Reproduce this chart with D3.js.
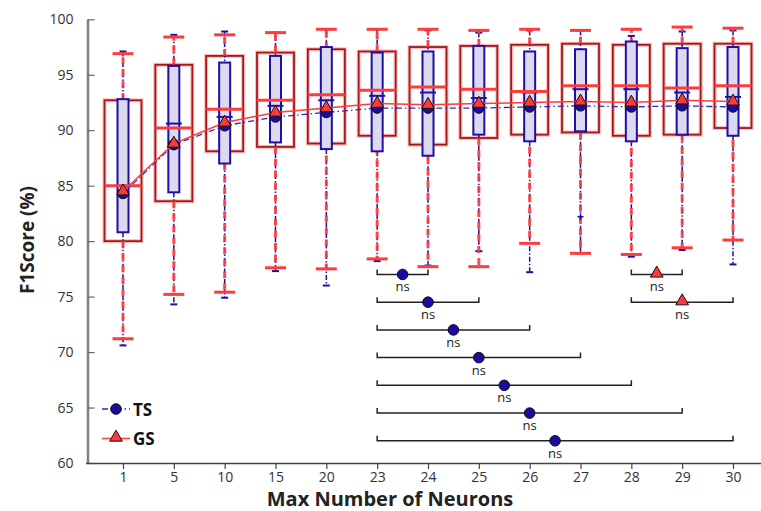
<!DOCTYPE html>
<html>
<head>
<meta charset="utf-8">
<script src="https://cdn.jsdelivr.net/npm/d3@7"></script>
<style>
	body{ margin:0; background:#fff; }
	svg text{ font-family:"Open Sans", "DejaVu Sans", sans-serif; }
</style>
</head>
<body>
<svg id="chart" width="761" height="511"></svg>
<script>
var categories = ["1", "5", "10", "15", "20", "23", "24", "25", "26", "27", "28", "29", "30"];
var yTicks = [60, 65, 70, 75, 80, 85, 90, 95, 100];

// GS (grid search) boxes
var gsLowCap  = [71.2, 75.2, 75.4, 77.6, 77.5, 78.4, 77.7, 77.7, 79.8, 78.9, 78.8, 79.4, 80.1];
var gsQ1      = [80.0, 83.6, 88.1, 88.5, 88.8, 89.5, 88.7, 89.3, 89.6, 89.8, 89.5, 89.6, 90.2];
var gsMedian  = [85.0, 90.2, 91.9, 92.7, 93.2, 93.6, 93.9, 93.7, 93.5, 94.0, 94.0, 93.8, 94.0];
var gsQ3      = [92.7, 95.9, 96.7, 97.0, 97.3, 97.1, 97.5, 97.6, 97.7, 97.8, 97.7, 97.8, 97.8];
var gsHighCap = [96.9, 98.4, 98.6, 98.8, 99.1, 99.1, 99.1, 99.0, 99.1, 99.0, 99.1, 99.3, 99.2];
var gsMean    = [84.5, 88.8, 90.7, 91.6, 92.0, 92.4, 92.3, 92.4, 92.5, 92.6, 92.5, 92.7, 92.6];

// TS boxes
var tsLowCap  = [70.6, 74.3, 74.9, 77.3, 76.0, 78.2, 77.8, 79.1, 77.2, 78.9, 78.6, 79.2, 77.9];
var tsQ1      = [80.8, 84.4, 87.0, 88.9, 88.3, 88.1, 87.7, 89.6, 89.0, 89.9, 89.0, 89.6, 89.5];
var tsMedian  = [85.0, 90.6, 91.2, 92.2, 92.7, 93.1, 93.4, 92.9, 93.4, 93.7, 93.7, 93.4, 93.0];
var tsQ3      = [92.8, 95.8, 96.1, 96.7, 97.5, 97.0, 97.1, 97.6, 97.1, 97.3, 98.0, 97.4, 97.5];
var tsHighCap = [97.1, 98.6, 98.9, 98.8, 99.1, 99.1, 99.0, 98.8, 99.0, 99.0, 98.5, 98.9, 99.0];
var tsMean    = [84.3, 88.7, 90.4, 91.2, 91.6, 92.0, 92.0, 92.0, 92.1, 92.2, 92.1, 92.2, 92.1];
var tsOutliers = [{ cat: "27", value: 82.2 }];

// significance brackets: [from, to, level]
var tsPairs = [["23", "24", 77.0], ["23", "25", 74.5], ["23", "26", 72.0], ["23", "27", 69.5],
	["23", "28", 67.0], ["23", "29", 64.5], ["23", "30", 62.0]];
var gsPairs = [["28", "29", 77.0], ["28", "30", 74.5]];

var redColor = "#ff3b3b";
var darkRed = "#a3181b";
var blueColor = "#1f0fa6";
var boxFill = "#dcdaf0";

var svg = d3.select("#chart");

var x = d3.scalePoint().domain(categories).range([123, 733]);
var y = d3.scaleLinear().domain([60, 100]).range([463, 19.3]);

var gsW = 37, tsW = 11, gsCapW = 21, tsCapW = 7;

// axes
var yAxis = svg.append("g").attr("transform", "translate(87.5,0)")
	.call(d3.axisLeft(y).tickValues(yTicks).tickSizeInner(-7).tickSizeOuter(0).tickPadding(14));
yAxis.select(".domain").attr("stroke", "#808080").attr("stroke-width", 2.5);
yAxis.selectAll(".tick line").attr("stroke", "#666").attr("stroke-width", 1.2);
yAxis.selectAll(".tick text").attr("fill", "#333").style("font-size", "14px");

var xAxis = svg.append("g").attr("transform", "translate(0,463)")
	.call(d3.axisBottom(x).tickSizeInner(6).tickSizeOuter(0).tickPadding(3));
xAxis.select(".domain").attr("d", "M86,0.5H761").attr("stroke", "#444").attr("stroke-width", 1.5);
xAxis.selectAll(".tick line").attr("stroke", "#444").attr("stroke-width", 1.2);
xAxis.selectAll(".tick text").attr("fill", "#333").style("font-size", "14px");

svg.append("text")
	.attr("transform", "translate(34,240) rotate(-90)")
	.attr("text-anchor", "middle")
	.style("font-size", "19px").style("font-weight", "bold").attr("fill", "#222")
	.text("F1Score (%)");
svg.append("text")
	.attr("x", 390).attr("y", 506)
	.attr("text-anchor", "middle")
	.style("font-size", "20px").style("font-weight", "bold").attr("fill", "#222")
	.text("Max Number of Neurons");

var idx = d3.range(categories.length);
var plot = svg.append("g");

// GS boxes (outline only, pink halo)
plot.selectAll("rect.gs-halo").data(idx).enter().append("rect")
	.attr("x", function(i){ return x(categories[i]) - gsW / 2; })
	.attr("y", function(i){ return y(gsQ3[i]); })
	.attr("width", gsW)
	.attr("height", function(i){ return y(gsQ1[i]) - y(gsQ3[i]); })
	.attr("fill", "none").attr("stroke", "#ffbcbc").attr("stroke-width", 4);
plot.selectAll("rect.gs").data(idx).enter().append("rect")
	.attr("x", function(i){ return x(categories[i]) - gsW / 2; })
	.attr("y", function(i){ return y(gsQ3[i]); })
	.attr("width", gsW)
	.attr("height", function(i){ return y(gsQ1[i]) - y(gsQ3[i]); })
	.attr("fill", "none").attr("stroke", darkRed).attr("stroke-width", 1.8);

// TS whiskers (dash-dot blue)
var tsWhisk = plot.append("g").attr("stroke", blueColor).attr("stroke-width", 1.5)
	.attr("stroke-dasharray", "5,2,1.5,2");
idx.forEach(function(i){
	var cx = x(categories[i]);
	tsWhisk.append("line").attr("x1", cx).attr("x2", cx)
		.attr("y1", y(tsHighCap[i])).attr("y2", y(tsQ3[i]));
	tsWhisk.append("line").attr("x1", cx).attr("x2", cx)
		.attr("y1", y(tsQ1[i])).attr("y2", y(tsLowCap[i]));
});
var tsCaps = plot.append("g").attr("stroke", blueColor).attr("stroke-width", 2);
idx.forEach(function(i){
	var cx = x(categories[i]);
	[tsHighCap[i], tsLowCap[i]].forEach(function(v){
		tsCaps.append("line").attr("x1", cx - tsCapW / 2).attr("x2", cx + tsCapW / 2)
			.attr("y1", y(v)).attr("y2", y(v));
	});
});

// GS whiskers (dashed red)
var gsWhisk = plot.append("g").attr("stroke", redColor).attr("stroke-opacity", 0.9)
	.attr("stroke-width", 3).attr("stroke-dasharray", "7,5");
idx.forEach(function(i){
	var cx = x(categories[i]);
	gsWhisk.append("line").attr("x1", cx).attr("x2", cx)
		.attr("y1", y(gsQ3[i])).attr("y2", y(gsHighCap[i]));
	gsWhisk.append("line").attr("x1", cx).attr("x2", cx)
		.attr("y1", y(gsQ1[i])).attr("y2", y(gsLowCap[i]));
});
var gsCaps = plot.append("g").attr("stroke", redColor).attr("stroke-width", 3);
idx.forEach(function(i){
	var cx = x(categories[i]);
	[gsHighCap[i], gsLowCap[i]].forEach(function(v){
		gsCaps.append("line").attr("x1", cx - gsCapW / 2).attr("x2", cx + gsCapW / 2)
			.attr("y1", y(v)).attr("y2", y(v));
	});
});

// TS boxes
plot.selectAll("rect.ts").data(idx).enter().append("rect")
	.attr("x", function(i){ return x(categories[i]) - tsW / 2; })
	.attr("y", function(i){ return y(tsQ3[i]); })
	.attr("width", tsW)
	.attr("height", function(i){ return y(tsQ1[i]) - y(tsQ3[i]); })
	.attr("fill", boxFill).attr("stroke", blueColor).attr("stroke-width", 2);

// medians
plot.selectAll("line.tsmed").data(idx).enter().append("line")
	.attr("x1", function(i){ return x(categories[i]) - 8; })
	.attr("x2", function(i){ return x(categories[i]) + 8; })
	.attr("y1", function(i){ return y(tsMedian[i]); })
	.attr("y2", function(i){ return y(tsMedian[i]); })
	.attr("stroke", blueColor).attr("stroke-width", 2);
plot.selectAll("line.gsmed").data(idx).enter().append("line")
	.attr("x1", function(i){ return x(categories[i]) - gsW / 2; })
	.attr("x2", function(i){ return x(categories[i]) + gsW / 2; })
	.attr("y1", function(i){ return y(gsMedian[i]); })
	.attr("y2", function(i){ return y(gsMedian[i]); })
	.attr("stroke", redColor).attr("stroke-width", 3);

// outliers
plot.selectAll("g.out").data(tsOutliers).enter().append("path")
	.attr("d", function(d){
		var cx = x(d.cat), cy = y(d.value);
		return "M" + (cx - 3) + "," + cy + "H" + (cx + 3) + "M" + cx + "," + (cy - 3) + "V" + (cy + 3);
	})
	.attr("stroke", blueColor).attr("stroke-width", 1.5);

// mean lines
var meanLine = d3.line().x(function(d, i){ return x(categories[i]); }).y(function(d){ return y(d); });
plot.append("path").datum(tsMean).attr("d", meanLine)
	.attr("fill", "none").attr("stroke", "#2a2ac8").attr("stroke-width", 1.3)
	.attr("stroke-dasharray", "6,3,1.5,3");
plot.append("path").datum(gsMean).attr("d", meanLine)
	.attr("fill", "none").attr("stroke", redColor).attr("stroke-width", 1.5);

var triangle = d3.symbol().type(d3.symbolTriangle).size(70);

function drawCircle(g, cx, cy){
	g.append("circle").attr("cx", cx).attr("cy", cy).attr("r", 5.3)
		.attr("fill", "#1a0c9e").attr("stroke", "#111").attr("stroke-width", 1);
}
function drawTriangle(g, cx, cy){
	g.append("path").attr("d", triangle)
		.attr("transform", "translate(" + cx + "," + cy + ")")
		.attr("fill", "#ff3838").attr("stroke", "#111").attr("stroke-width", 1);
}

var marks = plot.append("g");
idx.forEach(function(i){ drawCircle(marks, x(categories[i]), y(tsMean[i])); });
idx.forEach(function(i){ drawTriangle(marks, x(categories[i]), y(gsMean[i])); });

// significance brackets
var sig = svg.append("g");
function bracket(pair, isTs){
	var x1 = x(pair[0]), x2 = x(pair[1]), yy = y(pair[2]);
	sig.append("path")
		.attr("d", "M" + x1 + "," + (yy - 5) + "V" + yy + "H" + x2 + "V" + (yy - 5))
		.attr("fill", "none").attr("stroke", "#222").attr("stroke-width", 1.5);
	var mx = (x1 + x2) / 2;
	if(isTs){ drawCircle(sig, mx, yy); } else { drawTriangle(sig, mx, yy - 1); }
	sig.append("text").attr("x", mx).attr("y", yy + 17)
		.attr("text-anchor", "middle").attr("fill", "#222")
		.style("font-size", "13px").text("ns");
}
tsPairs.forEach(function(p){ bracket(p, true); });
gsPairs.forEach(function(p){ bracket(p, false); });

// legend
var legend = svg.append("g");
legend.append("line").attr("x1", 102).attr("x2", 130).attr("y1", 409).attr("y2", 409)
	.attr("stroke", "#2a2ac8").attr("stroke-width", 1.3).attr("stroke-dasharray", "6,3,1.5,3");
drawCircle(legend, 116, 409);
legend.append("text").attr("x", 133).attr("y", 415.5)
	.style("font-size", "17px").style("font-weight", "bold").attr("fill", "#111").text("TS");
legend.append("line").attr("x1", 102).attr("x2", 130).attr("y1", 438.5).attr("y2", 438.5)
	.attr("stroke", redColor).attr("stroke-width", 1.5);
drawTriangle(legend, 116, 437.5);
legend.append("text").attr("x", 133).attr("y", 445)
	.style("font-size", "17px").style("font-weight", "bold").attr("fill", "#111").text("GS");
</script>
</body>
</html>
